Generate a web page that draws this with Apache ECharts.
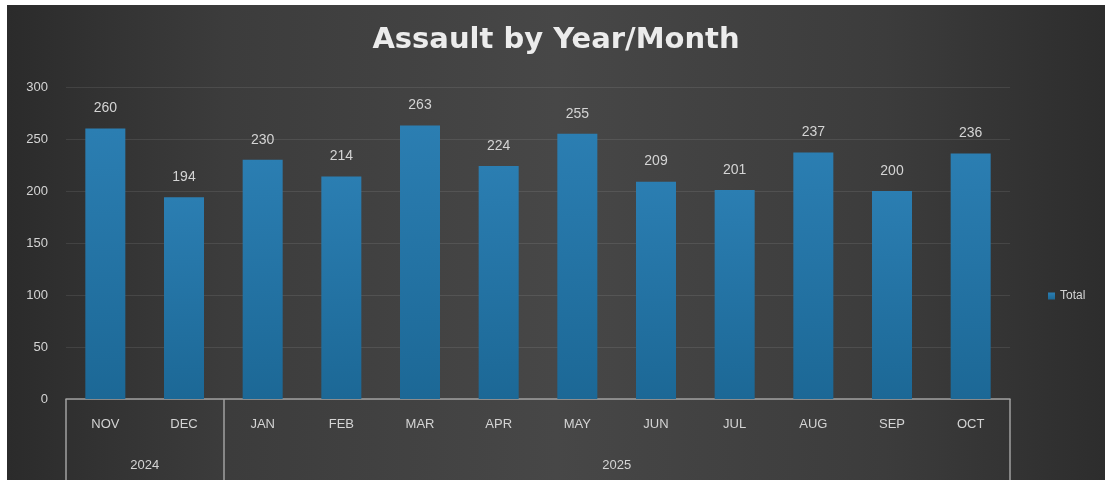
<!DOCTYPE html>
<html>
<head>
<meta charset="utf-8">
<script src="https://cdn.jsdelivr.net/npm/echarts@6/dist/echarts.min.js"></script>
<style>
html,body{margin:0;padding:0;background:#ffffff;}
#chart{position:absolute;left:7px;top:5px;width:1098px;height:475px;}
</style>
</head>
<body>
<div id="chart"></div>
<script>
const months = ['NOV','DEC','JAN','FEB','MAR','APR','MAY','JUN','JUL','AUG','SEP','OCT'];
const totals = [260,194,230,214,263,224,255,209,201,237,200,236];
const years = ['2024','2025'];
const yearSpans = [2,10]; // number of months in each year group
const yTicks = [0,50,100,150,200,250,300];

// derived boundaries and centers for the year group axis
const yearBounds = [0];
yearSpans.forEach(s => yearBounds.push(yearBounds[yearBounds.length-1] + s));
const yearCenters = yearSpans.map((s,i) => yearBounds[i] + s/2);

const chart = echarts.init(document.getElementById('chart'));
const labelColor = '#d4d4d4';
chart.setOption({
  backgroundColor: {
    type: 'linear', x: 0, y: 0, x2: 1, y2: 0,
    colorStops: [{offset:0,color:'#2b2b2b'},{offset:0.2,color:'#3c3c3c'},{offset:0.5,color:'#474747'},{offset:0.8,color:'#3c3c3c'},{offset:1,color:'#2d2d2d'}]
  },
  title: {
    text: 'Assault by Year/Month',
    left: 'center', top: 16,
    textStyle: {color:'#ececec', fontSize:29, fontWeight:'bold', fontFamily:'DejaVu Sans'}
  },
  legend: {
    data: ['Total'], left: 1036, top: 280, orient:'vertical',
    itemWidth: 7, itemHeight: 7, itemGap: 5, icon: 'rect',
    textStyle: {color: labelColor, fontSize: 12, fontFamily:'Liberation Sans'}
  },
  grid: {left:59, right:95, top:82, bottom:81, containLabel:false},
  xAxis: [
    {
      type:'category', data: months, position:'bottom',
      axisLine:{show:false}, axisTick:{show:false},
      axisLabel:{color:labelColor, fontSize:13, margin:19, fontFamily:'Liberation Sans'}
    },
    {
      type:'value', min:0, max: yearBounds[yearBounds.length-1], position:'bottom',
      axisLine:{show:true, lineStyle:{color:'#a0a0a0', width:1.5}},
      axisTick:{show:true, customValues: yearBounds, length: 82, inside:false, lineStyle:{color:'#a0a0a0', width:1.5}},
      splitLine:{show:false},
      axisLabel:{
        show:true, customValues: yearCenters, margin: 60, color:labelColor, fontSize:13, fontFamily:'Liberation Sans',
        formatter: v => { const i = yearCenters.indexOf(v); return i >= 0 ? years[i] : ''; }
      }
    }
  ],
  yAxis: {
    type:'value', min:yTicks[0], max:yTicks[yTicks.length-1], interval:50,
    axisLine:{show:false}, axisTick:{show:false},
    axisLabel:{color:labelColor, fontSize:13, margin:18, fontFamily:'Liberation Sans'},
    splitLine:{lineStyle:{color:'rgba(255,255,255,0.09)', width:1}}
  },
  series: [{
    name:'Total', type:'bar', xAxisIndex:0, data: totals, barWidth: 40,
    itemStyle:{color:{type:'linear', x:0,y:0,x2:0,y2:1, colorStops:[{offset:0,color:'#2b7eb2'},{offset:1,color:'#1c6896'}]}},
    label:{show:true, position:'top', distance:13, color:labelColor, fontSize:14, fontFamily:'Liberation Sans'}
  }]
});
</script>
</body>
</html>
